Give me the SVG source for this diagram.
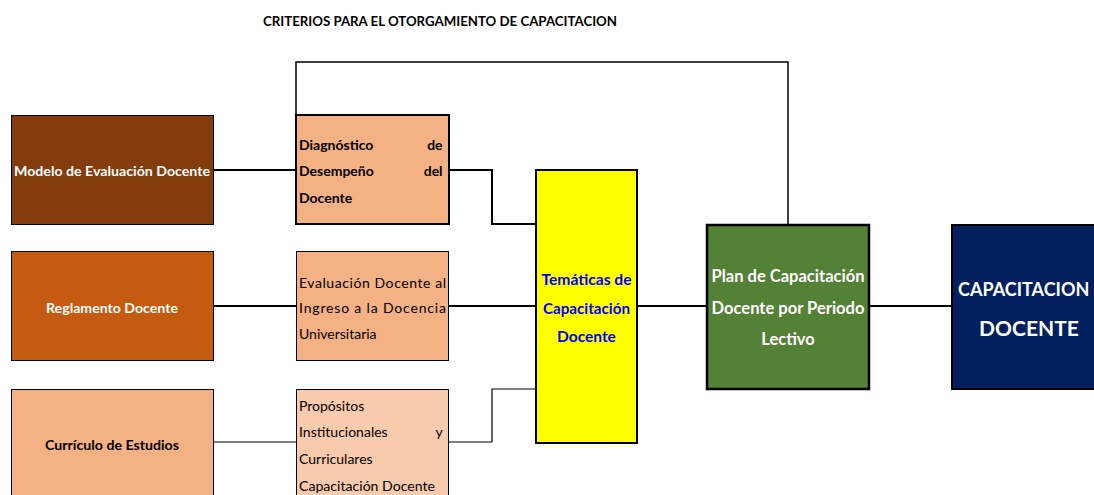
<svg xmlns="http://www.w3.org/2000/svg" width="1094" height="495" viewBox="0 0 1094 495">
<style>
.t{font-family:Lato,"Liberation Sans",sans-serif;font-weight:bold}
.n{font-family:Lato,"Liberation Sans",sans-serif}
.w{fill:#fff}
.k{fill:#000}
.c{stroke:#000;fill:none;stroke-width:2}
.c1{stroke:#000;fill:none;stroke-width:1.2}
</style>
<rect width="1094" height="495" fill="#fff"/>
<text class="t k" x="263" y="26" font-size="13" textLength="354" lengthAdjust="spacingAndGlyphs">CRITERIOS PARA EL OTORGAMIENTO DE CAPACITACION</text>
<g id="connectors">
<polyline class="c1" points="296,115 296,62 788,62 788,225" style="stroke-width:1.5"/>
<line class="c" x1="213" y1="170" x2="296" y2="170"/>
<polyline class="c" points="449,170 492,170 492,224 535,224"/>
<line class="c" x1="213" y1="306" x2="296" y2="306"/>
<line class="c" x1="449" y1="306" x2="535" y2="306"/>
<line class="c" x1="637" y1="306" x2="707" y2="306"/>
<line class="c" x1="869" y1="306" x2="951" y2="306"/>
<line class="c1" x1="213" y1="442" x2="296" y2="442"/>
<polyline class="c1" points="449,442 492,442 492,389 535,389"/>
</g>
<g id="modelo">
<rect x="11.5" y="115.5" width="202" height="109" fill="#843C0C" stroke="#000" stroke-width="1"/>
<text class="t w" x="112" y="176" font-size="14" text-anchor="middle" textLength="196" lengthAdjust="spacingAndGlyphs">Modelo de Evaluación Docente</text>
</g>
<g id="reglamento">
<rect x="11.5" y="251.5" width="202" height="109" fill="#C55A11" stroke="#000" stroke-width="1"/>
<text class="t w" x="112" y="313" font-size="14" text-anchor="middle" textLength="132" lengthAdjust="spacingAndGlyphs">Reglamento Docente</text>
</g>
<g id="curriculo">
<rect x="11.5" y="389.5" width="202" height="110" fill="#F4B183" stroke="#000" stroke-width="1"/>
<text class="t k" x="112" y="450" font-size="14" text-anchor="middle" textLength="134" lengthAdjust="spacingAndGlyphs">Currículo de Estudios</text>
</g>
<g id="diagnostico">
<rect x="296" y="115" width="153" height="109" fill="#F4B183" stroke="#000" stroke-width="2"/>
<text class="t k" font-size="14">
<tspan x="299" y="150">Diagnóstico</tspan><tspan x="446" y="150" text-anchor="end">de</tspan>
<tspan x="299" y="176">Desempeño</tspan><tspan x="446" y="176" text-anchor="end">del</tspan>
<tspan x="299" y="203">Docente</tspan>
</text>
</g>
<g id="evaluacion">
<rect x="296.5" y="251.5" width="152" height="109" fill="#F4B183" stroke="#000" stroke-width="1"/>
<text class="n k" font-size="14" x="299" y="288" textLength="147" lengthAdjust="spacing">Evaluación Docente al</text>
<text class="n k" font-size="14" x="299" y="313" textLength="147" lengthAdjust="spacing">Ingreso a la Docencia</text>
<text class="n k" font-size="14" x="299" y="339">Universitaria</text>
</g>
<g id="propositos">
<rect x="296.5" y="389.5" width="152" height="110" fill="#F8CBAD" stroke="#000" stroke-width="1"/>
<text class="n k" font-size="14">
<tspan x="299" y="411">Propósitos</tspan>
<tspan x="299" y="437">Institucionales</tspan><tspan x="446" y="437" text-anchor="end">y</tspan>
<tspan x="299" y="464">Curriculares</tspan>
</text>
<text class="n k" font-size="14" x="299" y="491" textLength="136" lengthAdjust="spacingAndGlyphs">Capacitación Docente</text>
</g>
<g id="tematicas">
<rect x="536" y="170" width="101" height="273" fill="#FFFF00" stroke="#000" stroke-width="2"/>
<text class="t" fill="#0000FF" font-size="15.5" text-anchor="middle" x="586.5" y="285" textLength="90" lengthAdjust="spacingAndGlyphs">Temáticas de</text>
<text class="t" fill="#0000FF" font-size="15.5" text-anchor="middle" x="586.5" y="314" textLength="87" lengthAdjust="spacingAndGlyphs">Capacitación</text>
<text class="t" fill="#0000FF" font-size="15.5" text-anchor="middle" x="586.5" y="342">Docente</text>
</g>
<g id="plan">
<rect x="707" y="225" width="162" height="164" fill="#538135" stroke="#000" stroke-width="2.5"/>
<text class="t w" font-size="16.5" text-anchor="middle" x="788" y="282" textLength="153" lengthAdjust="spacingAndGlyphs">Plan de Capacitación</text>
<text class="t w" font-size="16.5" text-anchor="middle" x="788" y="314" textLength="153" lengthAdjust="spacingAndGlyphs">Docente por Periodo</text>
<text class="t w" font-size="16.5" text-anchor="middle" x="788" y="345">Lectivo</text>
</g>
<g id="capacitacion">
<rect x="952" y="225" width="142" height="164" fill="#002060"/>
<polyline points="1094,225 952,225 952,389 1094,389" fill="none" stroke="#000" stroke-width="2"/>
<text class="t w" font-size="18" x="958" y="296">CAPACITACION</text>
<text class="t w" font-size="21" x="1029" y="336" text-anchor="middle">DOCENTE</text>
</g>
</svg>
